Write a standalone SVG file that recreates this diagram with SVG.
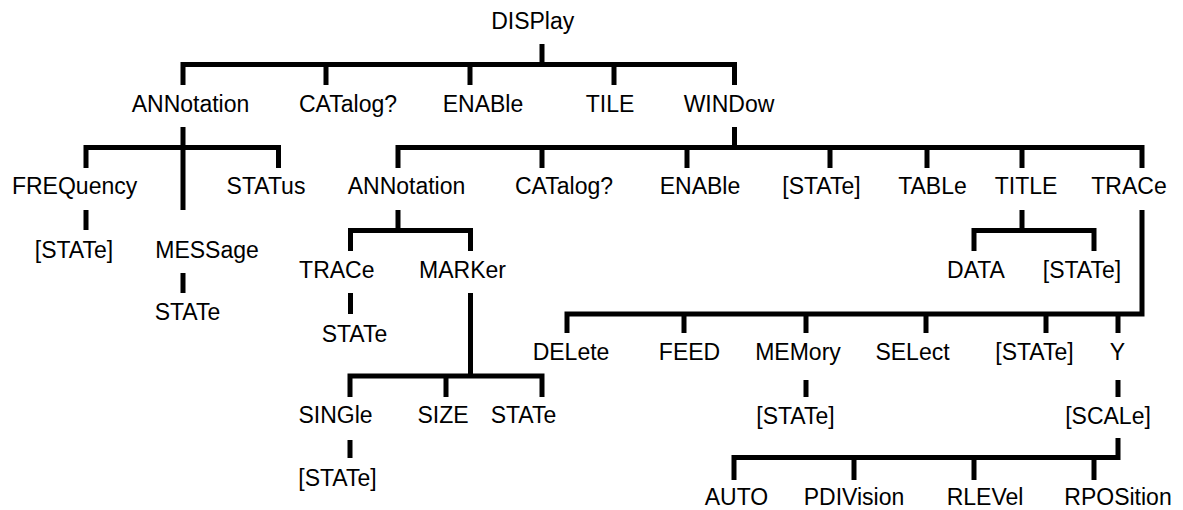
<svg xmlns="http://www.w3.org/2000/svg" width="1183" height="510" viewBox="0 0 1183 510">
<style>
text{font-family:"Liberation Sans",Arial,sans-serif;font-size:23px;fill:#000;text-anchor:middle}
.c{fill:none;stroke:#000;stroke-width:5;stroke-linejoin:miter;stroke-linecap:butt}
</style>
<rect width="1183" height="510" fill="#fff"/>
<g id="connectors" class="c">
<path d="M542 44V64.5M183 85V64.5H734.5V85M326 64.5V85M470 64.5V85M614 64.5V85"/>
<path d="M183 127V210M86 168V147.5H278.5V168M86 210V230M183 273V293"/>
<path d="M734.5 127V147.5M398 168V147.5H1142V168M542 147.5V168M687 147.5V168M830 147.5V168M927 147.5V168M1022 147.5V168"/>
<path d="M398 210V230.5M350.5 251V230.5H470.5V251M350.5 293V314M470.5 293V376M350 397V376H542V397M446 376V397M350 440V458"/>
<path d="M1022 210V230.5M974 251V230.5H1094V251"/>
<path d="M1142 210V314H567V333M684 314V333M806 314V333M926 314V333M1046 314V333M1118 314V333M806 380V397M1118 380V397"/>
<path d="M1118 438V457.5H734V480M854 457.5V480M974 457.5V480M1094 457.5V480"/>
</g>
<g id="n-display"><text x="532.7" y="28.5">DISPlay</text></g>
<g id="n-annotation1"><text x="190.5" y="112">ANNotation</text></g>
<g id="n-catalog1"><text x="348" y="112">CATalog?</text></g>
<g id="n-enable1"><text x="483" y="112">ENABle</text></g>
<g id="n-tile"><text x="610" y="112">TILE</text></g>
<g id="n-window"><text x="729" y="112">WINDow</text></g>
<g id="n-frequency"><text x="74.6" y="194">FREQuency</text></g>
<g id="n-status"><text x="266" y="194">STATus</text></g>
<g id="n-freq-state"><text x="74" y="258">[STATe]</text></g>
<g id="n-message"><text x="207" y="258">MESSage</text></g>
<g id="n-msg-state"><text x="187.5" y="320">STATe</text></g>
<g id="n-annotation2"><text x="406.5" y="194">ANNotation</text></g>
<g id="n-catalog2"><text x="564" y="194">CATalog?</text></g>
<g id="n-enable2"><text x="700" y="194">ENABle</text></g>
<g id="n-state2"><text x="821.5" y="194">[STATe]</text></g>
<g id="n-table"><text x="932.5" y="194">TABLe</text></g>
<g id="n-title"><text x="1026" y="194">TITLE</text></g>
<g id="n-trace2"><text x="1129" y="194">TRACe</text></g>
<g id="n-ann-trace"><text x="336.8" y="278">TRACe</text></g>
<g id="n-ann-marker"><text x="462.5" y="278">MARKer</text></g>
<g id="n-ann-trace-state"><text x="354.5" y="342">STATe</text></g>
<g id="n-single"><text x="335.5" y="423">SINGle</text></g>
<g id="n-size"><text x="443" y="423">SIZE</text></g>
<g id="n-marker-state"><text x="523.5" y="423">STATe</text></g>
<g id="n-single-state"><text x="337.5" y="486">[STATe]</text></g>
<g id="n-data"><text x="976" y="278">DATA</text></g>
<g id="n-title-state"><text x="1082" y="278">[STATe]</text></g>
<g id="n-delete"><text x="571" y="360">DELete</text></g>
<g id="n-feed"><text x="689.5" y="360">FEED</text></g>
<g id="n-memory"><text x="798" y="360">MEMory</text></g>
<g id="n-select"><text x="912.5" y="360">SELect</text></g>
<g id="n-trace-state"><text x="1034.5" y="360">[STATe]</text></g>
<g id="n-y"><text x="1117.5" y="360">Y</text></g>
<g id="n-memory-state"><text x="795.5" y="424">[STATe]</text></g>
<g id="n-scale"><text x="1108" y="424">[SCALe]</text></g>
<g id="n-auto"><text x="736.5" y="505">AUTO</text></g>
<g id="n-pdivision"><text x="854" y="505">PDIVision</text></g>
<g id="n-rlevel"><text x="985" y="505">RLEVel</text></g>
<g id="n-rposition"><text x="1118" y="505">RPOSition</text></g>
</svg>
